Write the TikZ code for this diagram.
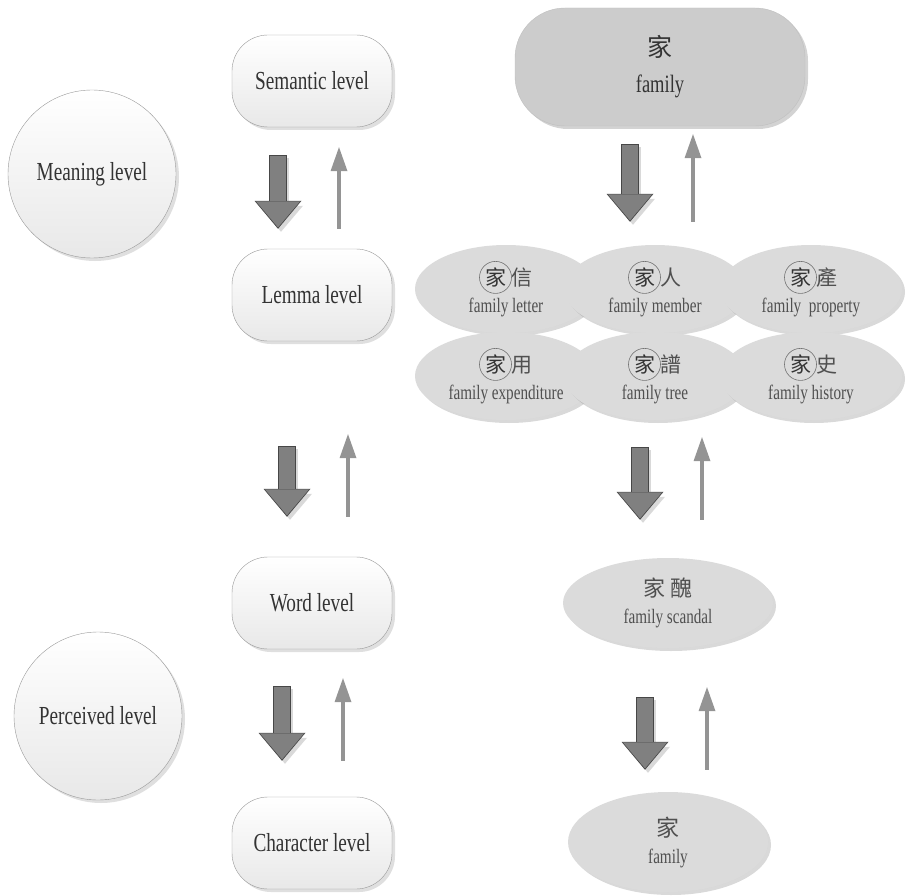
\documentclass[tikz,border=0pt]{standalone}
\usepackage{fontspec}
\setmainfont{Liberation Serif}[FakeStretch=0.74]
\newfontfamily\cjk{Noto Sans CJK TC}
\usetikzlibrary{positioning,shapes.geometric,shadows,arrows.meta}

\definecolor{labelgray}{HTML}{333333}
\definecolor{capgray}{HTML}{505050}

% circled character
\newcommand{\quan}[1]{\tikz[baseline=(q.base)]\node[circle, draw=black!55, line width=0.6pt,
    inner sep=1.2pt, minimum width=0pt, minimum height=0pt, fill=none, text=labelgray](q){#1};}

% down/up arrow pair between two nodes
\newcommand{\updown}[8]{%
  \draw[bigshadow, shorten <=#5pt, shorten >=#6pt] (#1.south -| #3,0) -- (#2.north -| #3,0);
  \draw[bigout, shorten <=#5pt, shorten >=#6pt] (#1.south -| #3,0) -- (#2.north -| #3,0);
  \draw[bigin, shorten <=#5pt+1pt, shorten >=#6pt+1.4pt] (#1.south -| #3,0) -- (#2.north -| #3,0);
  \draw[smallup, shorten <=#7pt, shorten >=#8pt] (#2.north -| #4,0) -- (#1.south -| #4,0);
}

\begin{document}
\begin{tikzpicture}[x=1pt, y=-1pt]
    % Styles
    \tikzstyle{level} = [rectangle, rounded corners=36pt, draw=black!40, top color=white,
        bottom color=black!9, minimum width=160pt, minimum height=92pt, text=labelgray,
        font=\fontsize{26}{30}\selectfont,
        drop shadow={opacity=0.25, shadow xshift=3pt, shadow yshift=-3pt}]
    \tikzstyle{sphere} = [circle, draw=black!40, top color=white, bottom color=black!9,
        minimum size=168pt, text=labelgray, font=\fontsize{26}{30}\selectfont,
        drop shadow={opacity=0.25, shadow xshift=3pt, shadow yshift=-3pt}]
    \tikzstyle{topbox} = [rectangle, rounded corners=50pt, draw=black!25, fill=black!20,
        minimum width=290pt, minimum height=118pt, align=center, text=labelgray,
        font=\fontsize{25}{30}\selectfont,
        drop shadow={opacity=0.35, shadow xshift=3pt, shadow yshift=-3pt}]
    \tikzstyle{sense} = [ellipse, fill=black!14, minimum width=182pt, minimum height=88pt,
        inner sep=0pt, align=center, text=capgray, font=\fontsize{20.5}{27}\selectfont,
        drop shadow={opacity=0.3, shadow xshift=3pt, shadow yshift=-3pt}]
    \tikzstyle{bigshadow} = [line width=16pt, draw=black, opacity=0.15,
        -{Triangle[width=44pt,length=26pt,line width=0pt]},
        transform canvas={shift={(3pt,-3pt)}}]
    \tikzstyle{bigout} = [line width=18pt, draw=black!72,
        -{Triangle[width=47pt,length=28pt,line width=0pt]}]
    \tikzstyle{bigin} = [line width=16pt, draw=black!50,
        -{Triangle[width=44pt,length=26pt,line width=0pt]}]
    \tikzstyle{smallup} = [line width=4pt, draw=black!42,
        -{Triangle[width=17pt,length=24pt,line width=0pt]}]

    \useasboundingbox (0,0) rectangle (910,896);

    % Nodes
    \node [sphere] (meaning) at (92,174) {Meaning level};
    \node [sphere] (perceived) at (98,716) {Perceived level};

    \node [level] (semantic) at (312,81) {Semantic level};
    \node [level, below of=semantic, node distance=214pt] (lemma) {Lemma level};
    \node [level, below of=lemma, node distance=308pt] (wordlvl) {Word level};
    \node [level, below of=wordlvl, node distance=240pt] (character) {Character level};

    \node [topbox] (jia) at (660,67) {{\cjk\fontsize{25}{30}\selectfont 家}\\[6pt]family};

    \node [sense] (letter) at (506,289) {{\cjk\fontsize{21}{27}\selectfont\quan{家}信}\\family letter};
    \node [sense, right of=letter, node distance=149pt] (member) {{\cjk\fontsize{21}{27}\selectfont\quan{家}人}\\family member};
    \node [sense, right of=member, node distance=156pt] (property) {{\cjk\fontsize{21}{27}\selectfont\quan{家}產}\\family\ \ property};
    \node [sense, below of=letter, node distance=87pt] (expend) {{\cjk\fontsize{21}{27}\selectfont\quan{家}用}\\family expenditure};
    \node [sense, below of=member, node distance=87pt] (tree) {{\cjk\fontsize{21}{27}\selectfont\quan{家}譜}\\family tree};
    \node [sense, below of=property, node distance=87pt] (history) {{\cjk\fontsize{21}{27}\selectfont\quan{家}史}\\family history};

    \node [sense, minimum width=210pt, minimum height=90pt] (scandal) at (668,603)
        {{\cjk\fontsize{22}{27}\selectfont 家\hspace{6pt}醜}\\family scandal};
    \node [sense, minimum width=200pt, minimum height=100pt, below of=scandal, node distance=239pt] (jiabottom)
        {{\cjk\fontsize{23}{29}\selectfont 家}\\family};

    % Arrows
    \updown{semantic}{lemma}{278}{339}{28}{20}{20}{20}
    \updown{lemma}{wordlvl}{287}{348}{105}{40}{40}{93}
    \updown{wordlvl}{character}{282}{343}{37}{36}{36}{29}
    \updown{jia}{member}{630}{693}{18}{23}{23}{8}
    \updown{tree}{scandal}{640}{702}{27}{38}{38}{17}
    \updown{scandal}{jiabottom}{645}{707}{49}{22}{22}{39}
\end{tikzpicture}
\end{document}
